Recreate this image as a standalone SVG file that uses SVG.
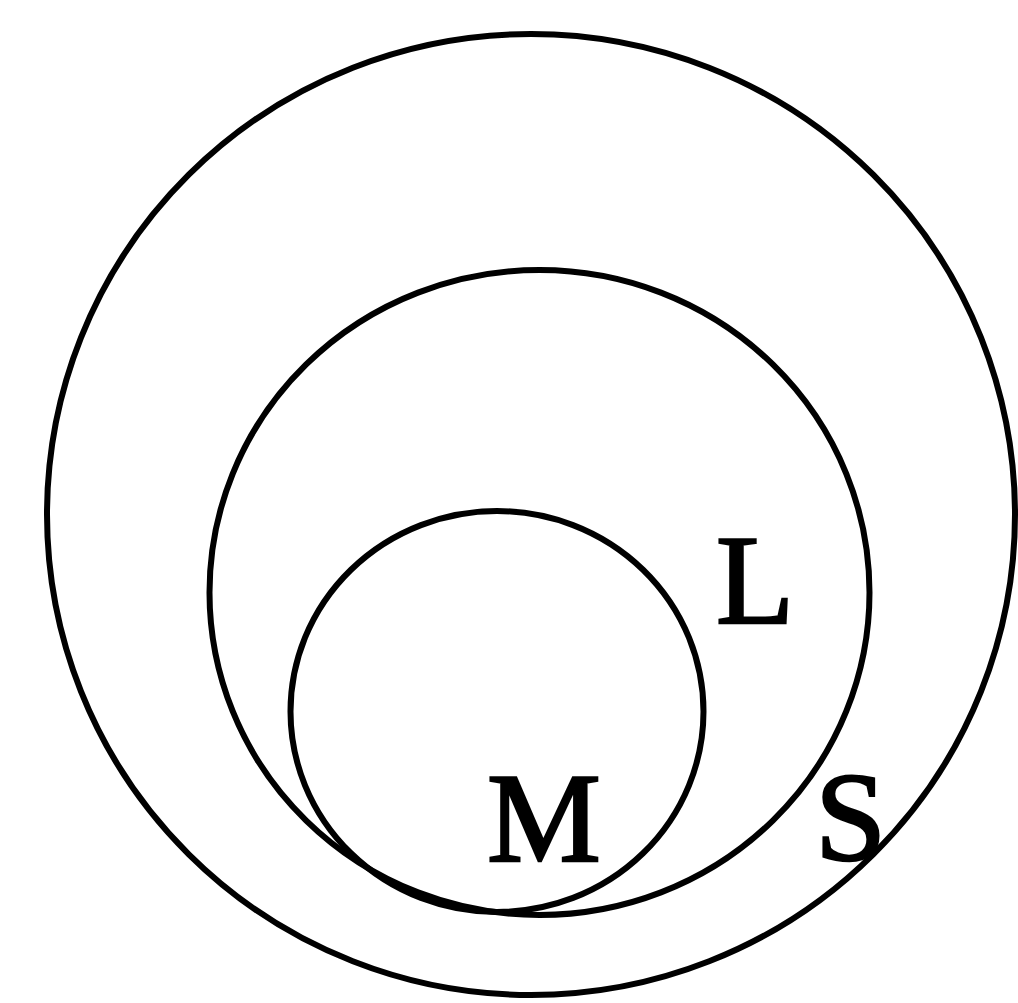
<svg xmlns="http://www.w3.org/2000/svg" width="1018" height="1003" viewBox="0 0 1018 1003">
<style>
.c{fill:none;stroke:#000;stroke-width:6}
.t{font-family:"Liberation Serif","Times New Roman",serif;font-size:128px;fill:#000;stroke:#000;stroke-width:2.5}
</style>
<rect width="1018" height="1003" fill="#fff"/>
<g id="S"><ellipse class="c" cx="531" cy="514.5" rx="484" ry="480.5"/><text class="t" x="815" y="860">S</text></g>
<g id="L"><ellipse class="c" cx="539.5" cy="592.5" rx="330" ry="322.5"/><text class="t" x="716" y="623">L</text></g>
<g id="M"><ellipse class="c" cx="497" cy="711.5" rx="206.5" ry="200.5"/><text class="t" x="487" y="861">M</text></g>
<g id="connectors"/>
</svg>
